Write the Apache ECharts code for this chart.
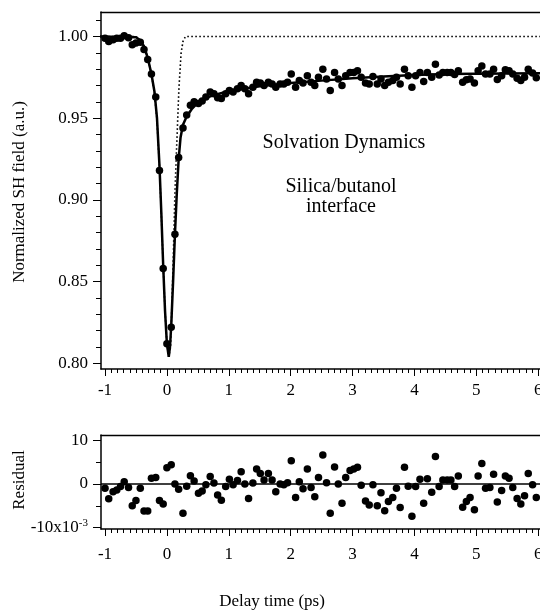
<!DOCTYPE html>
<html><head><meta charset="utf-8">
<script src="https://cdn.jsdelivr.net/npm/echarts@6/dist/echarts.min.js"></script>
<style>html,body{margin:0;padding:0;background:#fff}#c{width:540px;height:614px}</style>
</head><body><div id="c"></div>
<script>
// ---- data ----
const delayTimes = [-1.00,-0.94,-0.87,-0.81,-0.75,-0.69,-0.62,-0.56,-0.50,-0.43,
 -0.37,-0.31,-0.25,-0.18,-0.12,-0.06,0.00,0.07,0.13,0.19,
 0.26,0.32,0.38,0.44,0.51,0.57,0.63,0.70,0.76,0.82,
 0.88,0.95,1.01,1.07,1.14,1.20,1.26,1.32,1.39,1.45,
 1.51,1.57,1.64,1.70,1.76,1.83,1.89,1.95,2.01,2.08,
 2.14,2.20,2.27,2.33,2.39,2.45,2.52,2.58,2.64,2.71,
 2.77,2.83,2.89,2.96,3.02,3.08,3.14,3.21,3.27,3.33,
 3.40,3.46,3.52,3.58,3.65,3.71,3.77,3.84,3.90,3.96,
 4.02,4.09,4.15,4.21,4.28,4.34,4.40,4.46,4.53,4.59,
 4.65,4.71,4.78,4.84,4.90,4.97,5.03,5.09,5.15,5.22,
 5.28,5.34,5.41,5.47,5.53,5.59,5.66,5.72,5.78,5.84,
 5.91,5.97];
const shField = [0.999,0.997,0.998,0.999,0.999,1.0005,0.9992,0.995,0.996,0.9965,
 0.992,0.986,0.977,0.963,0.918,0.858,0.812,0.822,0.879,0.926,
 0.944,0.952,0.958,0.960,0.959,0.9605,0.963,0.966,0.965,0.9625,
 0.962,0.965,0.967,0.966,0.968,0.970,0.968,0.965,0.969,0.972,
 0.9715,0.970,0.972,0.971,0.969,0.971,0.971,0.972,0.977,0.969,
 0.973,0.9715,0.976,0.972,0.970,0.975,0.980,0.974,0.967,0.978,
 0.974,0.970,0.976,0.978,0.978,0.979,0.975,0.9715,0.971,0.9755,
 0.971,0.974,0.970,0.972,0.973,0.975,0.971,0.980,0.976,0.969,
 0.976,0.978,0.9725,0.978,0.975,0.983,0.9765,0.978,0.978,0.978,
 0.9767,0.979,0.972,0.9735,0.974,0.9716,0.979,0.982,0.977,0.977,
 0.980,0.9737,0.976,0.9796,0.979,0.977,0.9745,0.973,0.975,0.980,
 0.9776,0.9747];
const residuals = [-1.0,-3.4,-1.8,-1.4,-0.6,0.5,-0.8,-5.0,-3.8,-1.0,
 -6.2,-6.2,1.3,1.5,-3.8,-4.6,3.7,4.4,0,-1.2,
 -6.7,-0.5,1.9,0.7,-2.1,-1.6,-0.2,1.7,0.2,-2.5,
 -3.7,-0.6,1.1,-0.2,0.8,2.8,0,-3.3,0.2,3.4,
 2.4,0.9,2.4,0.9,-1.8,0,-0.2,0.3,5.3,-3.1,
 0.5,-1.1,3.4,-0.8,-2.9,1.5,6.6,0.3,-6.7,3.9,
 0,-4.4,1.5,3.1,3.4,3.8,-0.3,-3.9,-4.8,-0.2,
 -5.0,-2.0,-6.1,-4.0,-3.1,-1.0,-5.4,3.8,-0.5,-7.4,
 -0.6,1.1,-4.4,1.2,-1.9,6.3,-0.6,0.9,0.9,0.9,
 -0.6,1.8,-5.3,-4.0,-3.1,-5.9,1.8,4.7,-1.0,-0.8,
 2.2,-4.1,-1.5,1.8,1.3,-0.8,-3.3,-4.6,-2.7,2.4,
 -0.2,-3.1];
const fitTimes  = [-1.08,-0.5,-0.44,-0.37,-0.31,-0.25,-0.2,-0.16,-0.12,-0.09,-0.06,-0.03,0.0,0.03,0.05,0.07,0.1,0.13,0.16,0.19,0.22,0.26,0.32,0.4,0.5,0.6,0.75,1.0,1.25,1.5,2.0,2.5,3.0,3.5,4.0,4.5,5.0,5.5,6.2];
const fitValues = [1.0,0.9995,0.998,0.994,0.987,0.977,0.966,0.95,0.921,0.892,0.860,0.832,0.812,0.804,0.81,0.823,0.850,0.879,0.904,0.925,0.938,0.946,0.951,0.9555,0.9595,0.962,0.964,0.9665,0.968,0.9695,0.9715,0.973,0.9745,0.9755,0.9765,0.977,0.9772,0.9774,0.9775];
const irfTimes  = [-1.08,-0.5,-0.44,-0.37,-0.31,-0.25,-0.2,-0.16,-0.12,-0.09,-0.06,-0.03,0.0,0.03,0.06,0.1,0.13,0.155,0.175,0.195,0.23,0.26,0.3,6.2];
const irfValues = [1.0,1.0,0.998,0.994,0.987,0.977,0.965,0.949,0.92,0.891,0.86,0.832,0.812,0.804,0.81,0.86,0.905,0.93,0.95,0.969,0.99,0.997,1.0,1.0];
const xTickValues = [-1,0,1,2,3,4,5,6];
const yTickValues = [0.80,0.85,0.90,0.95,1.00];
const resLabelValues = [-10,0,10];
const resTickValues = [-10,-5,0,5,10];

// ---- chart ----
const FONT = 'Liberation Serif';
const xMinor = []; for (let v = -10; v <= 60; v++) xMinor.push(v / 10);
const yMinor = []; for (let v = 80; v <= 101; v++) yMinor.push(v / 100);
const XMIN = -1.065, XMAX = 6.03;

function xMain(g, margin) {
  return {type:'value', gridIndex:g, position:'bottom', min:XMIN, max:XMAX,
    axisLine:{show:true, onZero:false, lineStyle:{color:'#000', width:1.5}},
    axisTick:{show:true, inside:false, length:7, customValues:xTickValues, lineStyle:{color:'#000', width:1}},
    axisLabel:{show:true, customValues:xTickValues, margin:margin, color:'#000', fontFamily:FONT, fontSize:17,
      showMaxLabel:true, formatter:v => String(v)},
    splitLine:{show:false}};
}
function xMinorAxis(g) {
  return {type:'value', gridIndex:g, position:'bottom', min:XMIN, max:XMAX,
    axisLine:{show:false, onZero:false},
    axisTick:{show:true, inside:false, length:4, customValues:xMinor, lineStyle:{color:'#000', width:1}},
    axisLabel:{show:false}, splitLine:{show:false}};
}
function xTopFrame(g) {
  return {type:'value', gridIndex:g, position:'top', min:XMIN, max:XMAX,
    axisLine:{show:true, onZero:false, lineStyle:{color:'#000', width:1.3}},
    axisTick:{show:false}, axisLabel:{show:false}, splitLine:{show:false}};
}

const option = {
  animation:false,
  backgroundColor:'#fff',
  grid:[
    {left:101, right:0, top:12, height:357, outerBoundsMode:'none', containLabel:false},
    {left:101, right:0, top:435, height:94, outerBoundsMode:'none', containLabel:false}
  ],
  xAxis:[xMain(0, 13), xMinorAxis(0), xMain(1, 17), xMinorAxis(1), xTopFrame(0), xTopFrame(1)],
  yAxis:[
    {type:'value', gridIndex:0, position:'left', min:0.7965, max:1.015,
      axisLine:{show:true, onZero:false, lineStyle:{color:'#000', width:1.5}},
      axisTick:{show:true, inside:false, length:8, customValues:yTickValues, lineStyle:{color:'#000', width:1}},
      axisLabel:{show:true, customValues:yTickValues, margin:13, color:'#000', fontFamily:FONT, fontSize:17,
        formatter:v => v.toFixed(2)},
      splitLine:{show:false}},
    {type:'value', gridIndex:0, position:'left', min:0.7965, max:1.015,
      axisLine:{show:false, onZero:false},
      axisTick:{show:true, inside:false, length:5, customValues:yMinor, lineStyle:{color:'#000', width:1}},
      axisLabel:{show:false}, splitLine:{show:false}},
    {type:'value', gridIndex:1, position:'left', min:-10.3, max:11.2,
      axisLine:{show:true, onZero:false, lineStyle:{color:'#000', width:1.5}},
      axisTick:{show:true, inside:false, length:8, customValues:resLabelValues, lineStyle:{color:'#000', width:1}},
      axisLabel:{show:true, customValues:resLabelValues, margin:13, color:'#000', fontFamily:FONT, fontSize:17,
        formatter:v => v === -10 ? '{a|-10x10}{s|-3}' : String(v),
        rich:{a:{fontFamily:FONT, fontSize:17, color:'#000'}, s:{fontFamily:FONT, fontSize:11, color:'#000', padding:[0,0,10,0]}}},
      splitLine:{show:false}},
    {type:'value', gridIndex:1, position:'left', min:-10.3, max:11.2,
      axisLine:{show:false, onZero:false},
      axisTick:{show:true, inside:false, length:5, customValues:resTickValues, lineStyle:{color:'#000', width:1}},
      axisLabel:{show:false}, splitLine:{show:false}}
  ],
  graphic:[
    {type:'text', x:20, y:192, rotation:Math.PI/2, style:{text:'Normalized SH field (a.u.)', font:'17px "Liberation Serif"', fill:'#000', textAlign:'center', textVerticalAlign:'middle'}},
    {type:'text', x:20, y:480, rotation:Math.PI/2, style:{text:'Residual', font:'17px "Liberation Serif"', fill:'#000', textAlign:'center', textVerticalAlign:'middle'}},
    {type:'text', x:272, y:602, style:{text:'Delay time (ps)', font:'17px "Liberation Serif"', fill:'#000', textAlign:'center', textVerticalAlign:'middle'}},
    {type:'text', x:344, y:143, style:{text:'Solvation Dynamics', font:'20px "Liberation Serif"', fill:'#000', textAlign:'center', textVerticalAlign:'middle'}},
    {type:'text', x:341, y:187, style:{text:'Silica/butanol', font:'20px "Liberation Serif"', fill:'#000', textAlign:'center', textVerticalAlign:'middle'}},
    {type:'text', x:341, y:207, style:{text:'interface', font:'20px "Liberation Serif"', fill:'#000', textAlign:'center', textVerticalAlign:'middle'}}
  ],
  series:[
    {type:'line', xAxisIndex:0, yAxisIndex:0, z:2, symbol:'none', silent:true,
      data:irfTimes.map((t,i) => [t, irfValues[i]]),
      lineStyle:{color:'#000', width:1.6, type:[1.6,2.4]}},
    {type:'line', xAxisIndex:0, yAxisIndex:0, z:3, symbol:'none', silent:true,
      data:fitTimes.map((t,i) => [t, fitValues[i]]),
      lineStyle:{color:'#000', width:2.5}},
    {type:'scatter', xAxisIndex:0, yAxisIndex:0, z:4, symbolSize:7.5, silent:true,
      data:delayTimes.map((t,i) => [t, shField[i]]),
      itemStyle:{color:'#000', opacity:1}},
    {type:'scatter', xAxisIndex:2, yAxisIndex:2, z:4, symbolSize:7.5, silent:true,
      data:delayTimes.map((t,i) => [t, residuals[i]]),
      itemStyle:{color:'#000', opacity:1},
      markLine:{silent:true, symbol:'none', label:{show:false}, animation:false,
        lineStyle:{color:'#000', width:1.5, type:'solid'}, data:[{yAxis:0}]}}
  ]
};
const chart = echarts.init(document.getElementById('c'), null, {renderer:'canvas'});
chart.setOption(option);
</script>
</body></html>
